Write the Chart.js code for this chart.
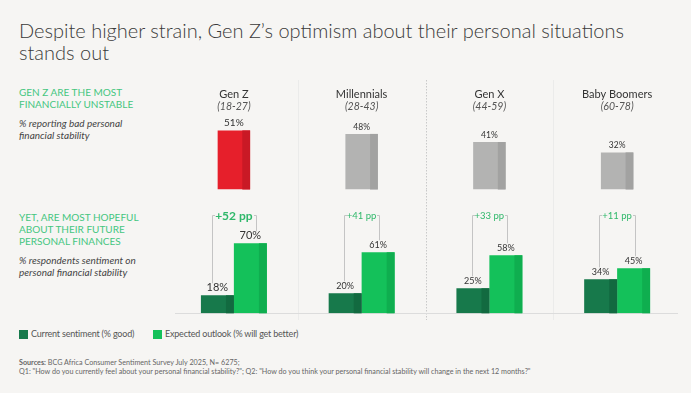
<!DOCTYPE html>
<html><head><meta charset="utf-8">
<script src="https://cdn.jsdelivr.net/npm/chart.js@4"></script>
<style>
html,body{margin:0;padding:0;}
body{background:#F6F5F3;width:691px;height:393px;overflow:hidden;position:relative;font-family:Lato,"Open Sans",sans-serif;color:#333;}
.abs{position:absolute;white-space:nowrap;}
#title{left:19px;top:19px;font-size:20px;font-weight:300;line-height:22px;color:#3a3a3a;}
.head{font-size:10px;line-height:12px;color:#45c67f;letter-spacing:0;}
.sub{font-size:10px;line-height:12px;font-style:italic;color:#444;}
.leg{font-size:9px;color:#555;line-height:12px;letter-spacing:-0.2px;}
.sq{position:absolute;width:9px;height:9px;}
.src{font-size:7.2px;color:#666;line-height:9px;}
canvas{position:absolute;}
</style>
</head><body>
<div id="title" class="abs">Despite higher strain, Gen Z’s optimism about their personal situations<br>stands out</div>
<div class="abs head" style="left:19px;top:86px;">GEN Z ARE THE MOST<br>FINANCIALLY UNSTABLE</div>
<div class="abs sub" style="left:19px;top:117px;">% reporting bad personal<br>financial stability</div>
<div class="abs head" style="left:19px;top:211px;">YET, ARE MOST HOPEFUL<br>ABOUT THEIR FUTURE<br>PERSONAL FINANCES</div>
<div class="abs sub" style="left:19px;top:254px;">% respondents sentiment on<br>personal financial stability</div>

<div class="sq" style="left:19px;top:330px;background:#17794b;"></div>
<div class="abs leg" style="left:31px;top:328px;">Current sentiment (% good)</div>
<div class="sq" style="left:153px;top:330px;background:#14c15a;"></div>
<div class="abs leg" style="left:165px;top:328px;">Expected outlook (% will get better)</div>

<div class="abs src" style="left:19px;top:358px;"><b>Sources:</b> BCG Africa Consumer Sentiment Survey July 2025, N= 6275;<br>Q1: "How do you currently feel about your personal financial stability?"; Q2: "How do you think your personal financial stability will change in the next 12 months?"</div>

<canvas id="top" width="511" height="110" style="left:170px;top:80px;"></canvas>
<canvas id="bot" width="511" height="130" style="left:170px;top:190px;"></canvas>

<script>
// ---- data ----
const generations = ['Gen Z', 'Millennials', 'Gen X', 'Baby Boomers'];
const ageRanges = ['(18-27)', '(28-43)', '(44-59)', '(60-78)'];
const badStability = [51, 48, 41, 32];
const currentGood = [18, 20, 25, 34];
const expectedBetter = [70, 61, 58, 45];
const seriesNames = ['Current sentiment (% good)', 'Expected outlook (% will get better)'];

const FONT = 'Lato, "Open Sans", sans-serif';

// dark side strip + value labels
function barDecor(opts) {
  return {
    id: 'barDecor',
    afterDatasetsDraw(chart) {
      const ctx = chart.ctx;
      chart.data.datasets.forEach((ds, di) => {
        const meta = chart.getDatasetMeta(di);
        meta.data.forEach((el, i) => {
          const p = el.getProps(['x', 'y', 'base', 'width'], true);
          const shade = Array.isArray(ds.shadeColor) ? ds.shadeColor[i] : ds.shadeColor;
          const sw = p.width * 0.24;
          ctx.save();
          ctx.fillStyle = shade;
          ctx.fillRect(p.x + p.width / 2 - sw, p.y, sw, p.base - p.y);
          ctx.fillStyle = '#333';
          ctx.textAlign = 'center';
          ctx.textBaseline = 'middle';
          const big = i === 0;
          ctx.font = (big ? opts.bigSize : opts.smallSize) + 'px ' + FONT;
          ctx.fillText(ds.data[i] + '%', p.x, p.y - (big ? 8 : 7));
          ctx.restore();
        });
      });
    }
  };
}

function frame(withHeaders) {
  return {
    id: 'frame',
    beforeDatasetsDraw(chart) {
      const ctx = chart.ctx;
      const xs = chart.scales.x, ys = chart.scales.y;
      const ca = chart.chartArea;
      ctx.save();
      // separators between categories
      for (let i = 0; i < generations.length - 1; i++) {
        const sx = Math.round((xs.getPixelForValue(i) + xs.getPixelForValue(i + 1)) / 2) + 0.5;
        ctx.beginPath();
        if (i === 1) { ctx.setLineDash([1.5, 1.5]); ctx.strokeStyle = '#c9c9c9'; }
        else { ctx.setLineDash([]); ctx.strokeStyle = '#ebebea'; }
        ctx.lineWidth = 1;
        ctx.moveTo(sx, 0);
        ctx.lineTo(sx, chart.height);
        ctx.stroke();
      }
      ctx.setLineDash([]);
      // baseline
      const by = Math.round(ys.getPixelForValue(0)) + 0.5;
      ctx.strokeStyle = '#dcdcdc';
      ctx.beginPath();
      ctx.moveTo(ca.left + 5, by);
      ctx.lineTo(ca.right - 3, by);
      ctx.stroke();
      if (withHeaders) {
        ctx.textAlign = 'center';
        ctx.textBaseline = 'middle';
        generations.forEach((g, i) => {
          const x = xs.getPixelForValue(i);
          ctx.fillStyle = '#333';
          ctx.font = '11px ' + FONT;
          ctx.fillText(g, x, 14);
          ctx.fillStyle = '#555';
          ctx.font = 'italic 10.5px ' + FONT;
          ctx.fillText(ageRanges[i], x, 27);
        });
      }
      ctx.restore();
    }
  };
}

const brackets = {
  id: 'brackets',
  afterDatasetsDraw(chart) {
    const ctx = chart.ctx;
    const m0 = chart.getDatasetMeta(0), m1 = chart.getDatasetMeta(1);
    ctx.save();
    generations.forEach((g, i) => {
      const a = m0.data[i].getProps(['x', 'y'], true);
      const b = m1.data[i].getProps(['x', 'y'], true);
      const cx = (a.x + b.x) / 2;
      const diff = expectedBetter[i] - currentGood[i];
      const txt = '+' + diff + ' pp';
      ctx.font = (i === 0 ? 'bold 12px ' : '9.5px ') + FONT;
      const tw = ctx.measureText(txt).width;
      const half = Math.max(16.5, tw / 2 + 3);
      const lx = Math.round(cx - half) + 0.5, rx = Math.round(cx + half) + 0.5;
      const ty = 25.5;
      ctx.strokeStyle = '#c4c4c4';
      ctx.lineWidth = 1;
      ctx.beginPath();
      ctx.moveTo(lx + 2.5, ty); ctx.lineTo(lx, ty); ctx.lineTo(lx, a.y - 12);
      ctx.moveTo(rx - 2.5, ty); ctx.lineTo(rx, ty); ctx.lineTo(rx, b.y - 12);
      ctx.stroke();
      ctx.fillStyle = '#2fb86a';
      ctx.textAlign = 'center';
      ctx.textBaseline = 'middle';
      ctx.fillText(txt, cx, 26);
    });
    ctx.restore();
  }
};

const baseOpts = (ymax, pad) => ({
  responsive: false,
  animation: false,
  devicePixelRatio: 1,
  layout: { padding: pad },
  plugins: { legend: { display: false }, tooltip: { enabled: false } },
  scales: {
    x: { display: false },
    y: { display: false, min: 0, max: ymax }
  }
});

new Chart(document.getElementById('top'), {
  type: 'bar',
  data: {
    labels: generations,
    datasets: [{
      data: badStability,
      backgroundColor: ['#e61f2b', '#b3b3b2', '#b3b3b2', '#b3b3b2'],
      shadeColor: ['#c91925', '#a2a2a1', '#a2a2a1', '#a2a2a1'],
      borderWidth: 0,
      categoryPercentage: 0.254,
      barPercentage: 1
    }]
  },
  options: baseOpts(60, { top: 40, bottom: 0.5, left: 0, right: 0 }),
  plugins: [frame(true), barDecor({ bigSize: 10, smallSize: 8.5 })]
});

new Chart(document.getElementById('bot'), {
  type: 'bar',
  data: {
    labels: generations,
    datasets: [{
      label: seriesNames[0],
      data: currentGood,
      backgroundColor: '#17794b',
      shadeColor: '#126a40',
      borderWidth: 0,
      categoryPercentage: 0.516,
      barPercentage: 1
    }, {
      label: seriesNames[1],
      data: expectedBetter,
      backgroundColor: '#14c15a',
      shadeColor: '#0fae4f',
      borderWidth: 0,
      categoryPercentage: 0.516,
      barPercentage: 1
    }]
  },
  options: baseOpts(80, { top: 43.3, bottom: 6.7, left: 0, right: 0 }),
  plugins: [frame(false), barDecor({ bigSize: 11, smallSize: 9 }), brackets]
});
</script>
</body></html>
